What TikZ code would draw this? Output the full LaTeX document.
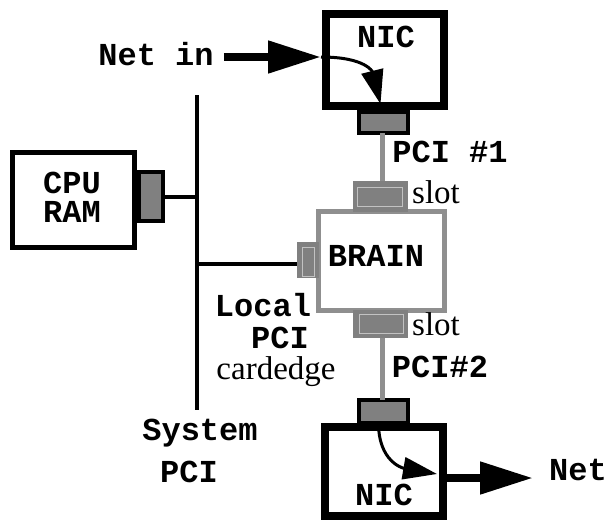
\documentclass[tikz,border=0pt]{standalone}
\usepackage{fontspec}
\setmainfont{Liberation Serif}
\setmonofont{Liberation Mono}
\usetikzlibrary{arrows.meta,calc}
\definecolor{slotgray}{gray}{0.5}
\definecolor{linegray}{gray}{0.56}
\definecolor{hilite}{gray}{0.76}
\begin{document}
\begin{tikzpicture}[x=1pt,y=-1pt,
  mono/.style={font=\fontsize{32}{32}\selectfont\ttfamily\bfseries, inner sep=0pt, anchor=base},
  serif/.style={font=\fontsize{33}{33}\selectfont\rmfamily, inner sep=0pt, anchor=base},
  nicbox/.style={draw=black, fill=white, line width=7.5, inner sep=0pt, outer sep=0pt},
  cpubox/.style={draw=black, fill=white, line width=5, inner sep=0pt, outer sep=0pt},
  brainbox/.style={draw=linegray, fill=white, line width=5, inner sep=0pt, outer sep=0pt},
  connbox/.style={draw=black, fill=slotgray, line width=4, inner sep=0pt, outer sep=0pt},
  slotbox/.style={draw=none, fill=slotgray, inner sep=0pt, outer sep=0pt},
  slotedge/.style={draw=hilite, line width=0.8},
  bus/.style={draw=black, line width=4},
  pciline/.style={draw=linegray, line width=5},
  fatarrow/.style={draw=black, line width=8, -{Triangle[length=53pt,width=31pt]}},
  thinarrow/.style={draw=black, line width=3, -{Triangle[length=34pt,width=22pt]}}
]
\useasboundingbox (0,0) rectangle (610,522);

% boxes
\node[nicbox, minimum width=118, minimum height=92] (nic1) at (385,60) {};
\node[connbox, minimum width=49, minimum height=21] (conn1) at (383.5,122.5) {};
\node[brainbox, minimum width=126, minimum height=99] (brain) at (381.5,261) {};
\node[slotbox, minimum width=55, minimum height=31] (slot1) at (380,196.5) {};
\node[slotbox, minimum width=55, minimum height=28] (slot2) at (380.5,323.5) {};
\node[slotbox, minimum width=22, minimum height=36] (lconn) at (308,260) {};
\node[connbox, minimum width=49, minimum height=23] (conn2) at (383.5,411.5) {};
\node[nicbox, minimum width=118, minimum height=89] (nic2) at (384,471.5) {};
\node[cpubox, minimum width=122, minimum height=95] (cpu) at (73.5,200) {};
\node[connbox, minimum width=24, minimum height=49] (cpuconn) at (151,196.5) {};

% slot highlights
\draw[slotedge] ($(slot1.north west)+(5,6)$) rectangle ($(slot1.south east)+(-5,-6)$);
\draw[slotedge] ($(slot2.north west)+(6,5)$) rectangle ($(slot2.south east)+(-5,-4)$);
\draw[slotedge] ($(lconn.north west)+(5,5)$) rectangle ($(lconn.south east)+(-5,-2)$);

% PCI lines
\draw[pciline] ([xshift=-1pt]conn1.south) -- ([xshift=-1pt]conn1.south |- slot1.north);
\draw[pciline] ([xshift=-1pt]conn2.north |- slot2.south) -- ([xshift=-1pt]conn2.north);

% system bus
\coordinate (bustop) at (197,95);
\coordinate (busbot) at (197,410);
\draw[bus] (bustop) -- (busbot);
\draw[bus] (cpuconn.east) -- (cpuconn.east -| bustop);
\coordinate (tap) at (197,264);
\draw[bus] (tap) -- (tap -| lconn.west);

% texts
\node[mono] (netin) at (156,65) {Net in};
\node[mono] (nic1t) at (386,47) {NIC};
\node[mono] (pci1) at (450,162) {PCI \#1};
\node[serif, anchor=base west] (slot1t) at (412,203) {slot};
\node[mono] (braint) at (376,266) {BRAIN};
\node[serif, anchor=base west] (slot2t) at (412,335) {slot};
\node[mono] (cput) at (72,193) {CPU};
\node[mono] (ramt) at (72,222) {RAM};
\node[mono] (localt) at (263,316) {Local};
\node[mono] (lpcit) at (280,348) {PCI};
\node[serif] (cardt) at (276,379) {cardedge};
\node[mono] (pci2) at (440,377) {PCI\#2};
\node[mono] (syst) at (200,440) {System};
\node[mono] (spcit) at (189,482) {PCI};
\node[mono] (nic2t) at (384,505) {NIC};
\node[mono] (nett) at (578,480) {Net};

% arrows
\coordinate (inend) at ([xshift=-5pt]nic1.west |- 0,57);
\draw[fatarrow] (netin.east |- inend) ++(10,0) -- (inend);
\draw[thinarrow] (inend) .. controls +(45,0) and +(-8,-32) .. ([shift={(-3,-8)}]conn1.north);
\coordinate (outtip) at (437,474);
\draw[thinarrow] ([xshift=-5pt]conn2.south) .. controls +(0,38) and +(-35,-6) .. (outtip);
\coordinate (outstart) at (nic2.east |- 0,478);
\draw[fatarrow] (outstart) -- ([xshift=-16pt]nett.west |- outstart);
\end{tikzpicture}
\end{document}
